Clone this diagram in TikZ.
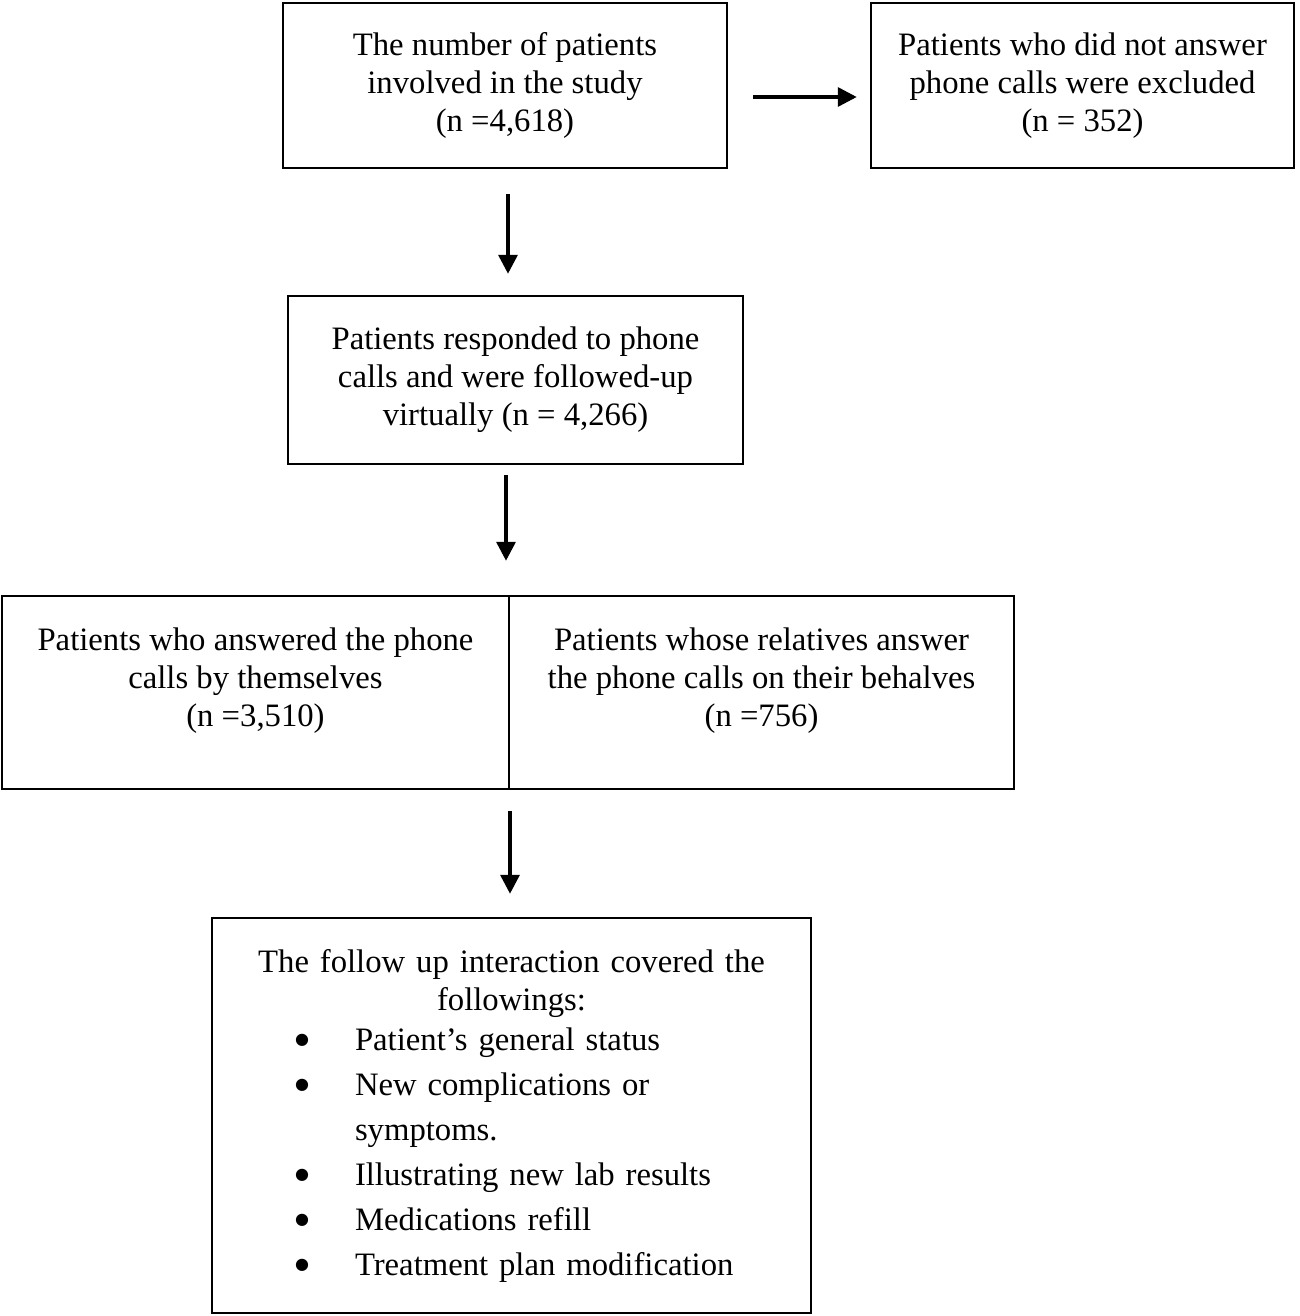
\documentclass[tikz,border=0pt]{standalone}
\usepackage{fontspec}
\setmainfont{Liberation Serif}
\newfontfamily\symfont{DejaVu Sans}
\usetikzlibrary{positioning,arrows.meta}

\newcommand\bitem[1]{\hspace*{37pt}\makebox[0pt]{\raisebox{6pt}{\symfont\fontsize{16}{16}\selectfont ●}}\hspace*{53pt}#1}

\begin{document}
\begin{tikzpicture}[x=1pt,y=-1pt]

\tikzstyle{every node}=[font=\fontsize{32.7}{38}\selectfont]
\tikzstyle{box}=[rectangle, draw, line width=2.5pt, inner sep=0pt, align=center]
\tikzstyle{txt}=[inner sep=0pt, align=center]
\tikzstyle{arr}=[-{Triangle[length=19pt,width=19pt]}, line width=3.5pt]

\useasboundingbox (0,0) rectangle (1299,1316);

\node[box, minimum width=444pt, minimum height=165pt] at (505,85.5) (study)
    {The number of patients\\involved in the study\\(n =4,618)};
\node[box, minimum width=423pt, minimum height=165pt] at (1082.5,85.5) (excluded)
    {Patients who did not answer\\phone calls were excluded\\(n = 352)};
\node[box, minimum width=455pt, minimum height=168pt] at (515.5,380) (followed)
    {Patients responded to phone\\calls and were followed-up\\virtually (n = 4,266)};

% split box
\node[box, minimum width=507pt, minimum height=193pt] at (255.5,692.5) (self) {};
\node[box, minimum width=505pt, minimum height=193pt] at (761.5,692.5) (relatives) {};
\node[txt] at ([yshift=12pt]self.center) (selftxt)
    {Patients who answered the phone\\calls by themselves\\(n =3,510)};
\node[txt] at ([yshift=12pt]relatives.center) (relativestxt)
    {Patients whose relatives answer\\the phone calls on their behalves\\(n =756)};

\node[box, minimum width=599pt, minimum height=395pt, text width=493pt, inner xsep=53pt, align=left] at (511.5,1115.5) (followup)
    {\makebox[493pt]{The follow up interaction covered the}\\
     \makebox[493pt]{followings:}\\[2pt]
     \bitem{Patient’s general status}\\[7pt]
     \bitem{New complications or}\\[7pt]
     \hspace*{90pt}symptoms.\\[7pt]
     \bitem{Illustrating new lab results}\\[7pt]
     \bitem{Medications refill}\\[7pt]
     \bitem{Treatment plan modification}};

\draw[arr, shorten <=25pt, shorten >=13pt] ([yshift=-11.5pt]study.east) -- ([yshift=-11.5pt]excluded.west);
\draw[arr, shorten <=25pt, shorten >=21pt] ([xshift=3pt]study.south) -- ([xshift=3pt]study.south |- followed.north);
\draw[arr, shorten <=10pt, shorten >=34pt] ([xshift=-9.5pt]followed.south) -- ([xshift=-9.5pt]followed.south |- self.north);
\draw[arr, shorten <=21pt, shorten >=23pt] ([xshift=-1.5pt]followup.north |- self.south) -- ([xshift=-1.5pt]followup.north);

\end{tikzpicture}
\end{document}
